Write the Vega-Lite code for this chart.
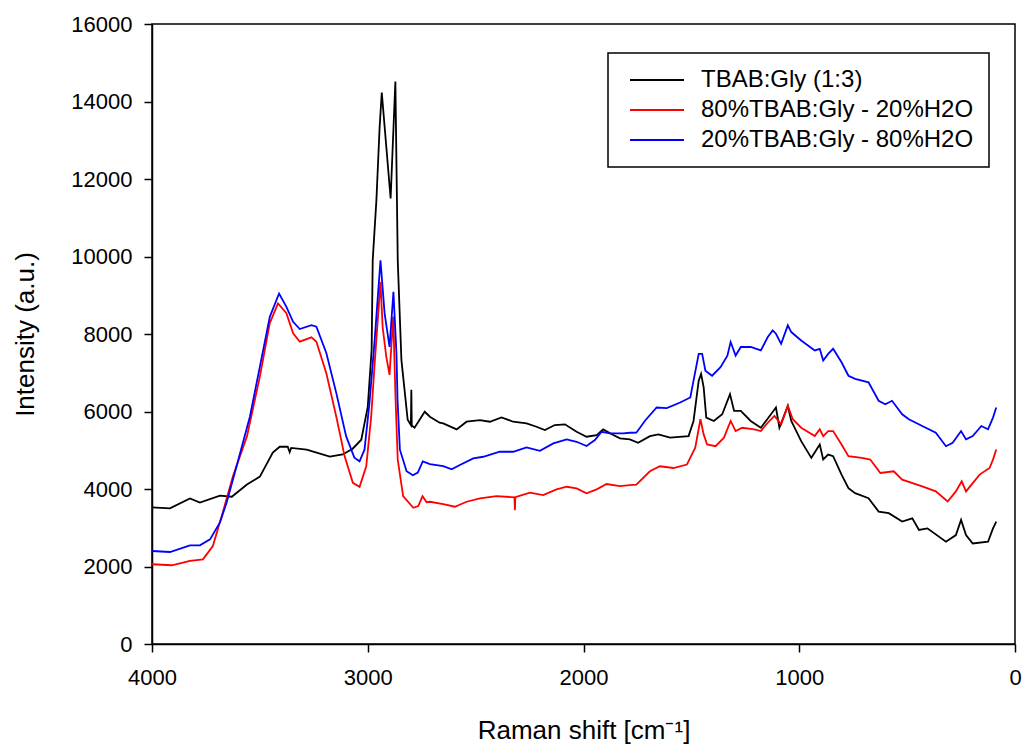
{
  "$schema": "https://vega.github.io/schema/vega-lite/v6.json",
  "autosize": {"type": "none"},
  "padding": {"left": 152, "top": 24, "right": 8, "bottom": 103},
  "width": 863,
  "height": 620,
  "background": "white",
  "config": {
    "view": {"stroke": "black", "strokeWidth": 1.5},
    "axis": {
      "domainColor": "black", "tickColor": "black", "labelColor": "black", "titleColor": "black",
      "labelFont": "Liberation Sans", "titleFont": "Liberation Sans",
      "labelFontSize": 22, "titleFontSize": 26, "titleFontWeight": "normal",
      "tickSize": 8, "grid": false, "domainWidth": 1.5, "tickWidth": 1.5
    },
    "legend": {
      "orient": "none", "legendX": 456, "legendY": 29,
      "strokeColor": "black", "strokeWidth": 1.5, "fillColor": "white",
      "padding": 15,
      "symbolType": "M-0.556,0H5.444", "symbolSize": 324, "symbolStrokeWidth": 1.8,
      "labelFont": "Liberation Sans", "labelFontSize": 24, "labelColor": "black",
      "labelOffset": 54, "rowPadding": 6, "labelLimit": 500
    }
  },
  "datasets": {
    "spectra": [
      {"shift": 4000, "intensity": 3524, "sample": "TBAB:Gly (1:3)"},
      {"shift": 3917, "intensity": 3500, "sample": "TBAB:Gly (1:3)"},
      {"shift": 3824, "intensity": 3755, "sample": "TBAB:Gly (1:3)"},
      {"shift": 3778, "intensity": 3650, "sample": "TBAB:Gly (1:3)"},
      {"shift": 3685, "intensity": 3830, "sample": "TBAB:Gly (1:3)"},
      {"shift": 3630, "intensity": 3800, "sample": "TBAB:Gly (1:3)"},
      {"shift": 3560, "intensity": 4115, "sample": "TBAB:Gly (1:3)"},
      {"shift": 3500, "intensity": 4320, "sample": "TBAB:Gly (1:3)"},
      {"shift": 3440, "intensity": 4940, "sample": "TBAB:Gly (1:3)"},
      {"shift": 3408, "intensity": 5090, "sample": "TBAB:Gly (1:3)"},
      {"shift": 3371, "intensity": 5090, "sample": "TBAB:Gly (1:3)"},
      {"shift": 3362, "intensity": 4950, "sample": "TBAB:Gly (1:3)"},
      {"shift": 3355, "intensity": 5060, "sample": "TBAB:Gly (1:3)"},
      {"shift": 3283, "intensity": 5015, "sample": "TBAB:Gly (1:3)"},
      {"shift": 3176, "intensity": 4835, "sample": "TBAB:Gly (1:3)"},
      {"shift": 3116, "intensity": 4890, "sample": "TBAB:Gly (1:3)"},
      {"shift": 3070, "intensity": 5040, "sample": "TBAB:Gly (1:3)"},
      {"shift": 3030, "intensity": 5272, "sample": "TBAB:Gly (1:3)"},
      {"shift": 3000, "intensity": 6120, "sample": "TBAB:Gly (1:3)"},
      {"shift": 2982, "intensity": 7590, "sample": "TBAB:Gly (1:3)"},
      {"shift": 2977, "intensity": 9902, "sample": "TBAB:Gly (1:3)"},
      {"shift": 2960, "intensity": 11446, "sample": "TBAB:Gly (1:3)"},
      {"shift": 2945, "intensity": 13330, "sample": "TBAB:Gly (1:3)"},
      {"shift": 2935, "intensity": 14231, "sample": "TBAB:Gly (1:3)"},
      {"shift": 2894, "intensity": 11497, "sample": "TBAB:Gly (1:3)"},
      {"shift": 2872, "intensity": 14514, "sample": "TBAB:Gly (1:3)"},
      {"shift": 2861, "intensity": 9902, "sample": "TBAB:Gly (1:3)"},
      {"shift": 2844, "intensity": 7330, "sample": "TBAB:Gly (1:3)"},
      {"shift": 2815, "intensity": 5787, "sample": "TBAB:Gly (1:3)"},
      {"shift": 2800, "intensity": 5650, "sample": "TBAB:Gly (1:3)"},
      {"shift": 2798, "intensity": 6560, "sample": "TBAB:Gly (1:3)"},
      {"shift": 2796, "intensity": 5640, "sample": "TBAB:Gly (1:3)"},
      {"shift": 2783, "intensity": 5581, "sample": "TBAB:Gly (1:3)"},
      {"shift": 2736, "intensity": 5993, "sample": "TBAB:Gly (1:3)"},
      {"shift": 2712, "intensity": 5864, "sample": "TBAB:Gly (1:3)"},
      {"shift": 2667, "intensity": 5710, "sample": "TBAB:Gly (1:3)"},
      {"shift": 2650, "intensity": 5694, "sample": "TBAB:Gly (1:3)"},
      {"shift": 2588, "intensity": 5539, "sample": "TBAB:Gly (1:3)"},
      {"shift": 2542, "intensity": 5736, "sample": "TBAB:Gly (1:3)"},
      {"shift": 2480, "intensity": 5779, "sample": "TBAB:Gly (1:3)"},
      {"shift": 2434, "intensity": 5736, "sample": "TBAB:Gly (1:3)"},
      {"shift": 2380, "intensity": 5849, "sample": "TBAB:Gly (1:3)"},
      {"shift": 2326, "intensity": 5736, "sample": "TBAB:Gly (1:3)"},
      {"shift": 2264, "intensity": 5694, "sample": "TBAB:Gly (1:3)"},
      {"shift": 2218, "intensity": 5606, "sample": "TBAB:Gly (1:3)"},
      {"shift": 2179, "intensity": 5521, "sample": "TBAB:Gly (1:3)"},
      {"shift": 2133, "intensity": 5650, "sample": "TBAB:Gly (1:3)"},
      {"shift": 2086, "intensity": 5668, "sample": "TBAB:Gly (1:3)"},
      {"shift": 2032, "intensity": 5477, "sample": "TBAB:Gly (1:3)"},
      {"shift": 1986, "intensity": 5349, "sample": "TBAB:Gly (1:3)"},
      {"shift": 1939, "intensity": 5392, "sample": "TBAB:Gly (1:3)"},
      {"shift": 1909, "intensity": 5539, "sample": "TBAB:Gly (1:3)"},
      {"shift": 1862, "intensity": 5392, "sample": "TBAB:Gly (1:3)"},
      {"shift": 1831, "intensity": 5307, "sample": "TBAB:Gly (1:3)"},
      {"shift": 1785, "intensity": 5281, "sample": "TBAB:Gly (1:3)"},
      {"shift": 1747, "intensity": 5193, "sample": "TBAB:Gly (1:3)"},
      {"shift": 1692, "intensity": 5365, "sample": "TBAB:Gly (1:3)"},
      {"shift": 1653, "intensity": 5408, "sample": "TBAB:Gly (1:3)"},
      {"shift": 1599, "intensity": 5324, "sample": "TBAB:Gly (1:3)"},
      {"shift": 1513, "intensity": 5365, "sample": "TBAB:Gly (1:3)"},
      {"shift": 1490, "intensity": 5756, "sample": "TBAB:Gly (1:3)"},
      {"shift": 1466, "intensity": 6795, "sample": "TBAB:Gly (1:3)"},
      {"shift": 1455, "intensity": 6970, "sample": "TBAB:Gly (1:3)"},
      {"shift": 1443, "intensity": 6623, "sample": "TBAB:Gly (1:3)"},
      {"shift": 1431, "intensity": 5843, "sample": "TBAB:Gly (1:3)"},
      {"shift": 1396, "intensity": 5756, "sample": "TBAB:Gly (1:3)"},
      {"shift": 1357, "intensity": 5929, "sample": "TBAB:Gly (1:3)"},
      {"shift": 1321, "intensity": 6448, "sample": "TBAB:Gly (1:3)"},
      {"shift": 1302, "intensity": 6016, "sample": "TBAB:Gly (1:3)"},
      {"shift": 1271, "intensity": 6016, "sample": "TBAB:Gly (1:3)"},
      {"shift": 1225, "intensity": 5756, "sample": "TBAB:Gly (1:3)"},
      {"shift": 1178, "intensity": 5581, "sample": "TBAB:Gly (1:3)"},
      {"shift": 1131, "intensity": 5929, "sample": "TBAB:Gly (1:3)"},
      {"shift": 1108, "intensity": 6103, "sample": "TBAB:Gly (1:3)"},
      {"shift": 1092, "intensity": 5581, "sample": "TBAB:Gly (1:3)"},
      {"shift": 1053, "intensity": 6145, "sample": "TBAB:Gly (1:3)"},
      {"shift": 1037, "intensity": 5756, "sample": "TBAB:Gly (1:3)"},
      {"shift": 991, "intensity": 5235, "sample": "TBAB:Gly (1:3)"},
      {"shift": 944, "intensity": 4804, "sample": "TBAB:Gly (1:3)"},
      {"shift": 905, "intensity": 5149, "sample": "TBAB:Gly (1:3)"},
      {"shift": 889, "intensity": 4761, "sample": "TBAB:Gly (1:3)"},
      {"shift": 866, "intensity": 4888, "sample": "TBAB:Gly (1:3)"},
      {"shift": 843, "intensity": 4846, "sample": "TBAB:Gly (1:3)"},
      {"shift": 804, "intensity": 4372, "sample": "TBAB:Gly (1:3)"},
      {"shift": 772, "intensity": 4023, "sample": "TBAB:Gly (1:3)"},
      {"shift": 741, "intensity": 3894, "sample": "TBAB:Gly (1:3)"},
      {"shift": 679, "intensity": 3763, "sample": "TBAB:Gly (1:3)"},
      {"shift": 632, "intensity": 3418, "sample": "TBAB:Gly (1:3)"},
      {"shift": 585, "intensity": 3375, "sample": "TBAB:Gly (1:3)"},
      {"shift": 523, "intensity": 3159, "sample": "TBAB:Gly (1:3)"},
      {"shift": 476, "intensity": 3244, "sample": "TBAB:Gly (1:3)"},
      {"shift": 445, "intensity": 2943, "sample": "TBAB:Gly (1:3)"},
      {"shift": 406, "intensity": 2984, "sample": "TBAB:Gly (1:3)"},
      {"shift": 320, "intensity": 2639, "sample": "TBAB:Gly (1:3)"},
      {"shift": 274, "intensity": 2811, "sample": "TBAB:Gly (1:3)"},
      {"shift": 250, "intensity": 3202, "sample": "TBAB:Gly (1:3)"},
      {"shift": 227, "intensity": 2811, "sample": "TBAB:Gly (1:3)"},
      {"shift": 196, "intensity": 2595, "sample": "TBAB:Gly (1:3)"},
      {"shift": 125, "intensity": 2639, "sample": "TBAB:Gly (1:3)"},
      {"shift": 102, "intensity": 2984, "sample": "TBAB:Gly (1:3)"},
      {"shift": 87, "intensity": 3159, "sample": "TBAB:Gly (1:3)"},

      {"shift": 4000, "intensity": 2058, "sample": "80%TBAB:Gly - 20%H2O"},
      {"shift": 3908, "intensity": 2032, "sample": "80%TBAB:Gly - 20%H2O"},
      {"shift": 3824, "intensity": 2143, "sample": "80%TBAB:Gly - 20%H2O"},
      {"shift": 3764, "intensity": 2186, "sample": "80%TBAB:Gly - 20%H2O"},
      {"shift": 3718, "intensity": 2528, "sample": "80%TBAB:Gly - 20%H2O"},
      {"shift": 3672, "intensity": 3395, "sample": "80%TBAB:Gly - 20%H2O"},
      {"shift": 3625, "intensity": 4329, "sample": "80%TBAB:Gly - 20%H2O"},
      {"shift": 3560, "intensity": 5357, "sample": "80%TBAB:Gly - 20%H2O"},
      {"shift": 3500, "intensity": 6901, "sample": "80%TBAB:Gly - 20%H2O"},
      {"shift": 3454, "intensity": 8282, "sample": "80%TBAB:Gly - 20%H2O"},
      {"shift": 3416, "intensity": 8788, "sample": "80%TBAB:Gly - 20%H2O"},
      {"shift": 3377, "intensity": 8539, "sample": "80%TBAB:Gly - 20%H2O"},
      {"shift": 3346, "intensity": 8016, "sample": "80%TBAB:Gly - 20%H2O"},
      {"shift": 3315, "intensity": 7801, "sample": "80%TBAB:Gly - 20%H2O"},
      {"shift": 3261, "intensity": 7913, "sample": "80%TBAB:Gly - 20%H2O"},
      {"shift": 3238, "intensity": 7801, "sample": "80%TBAB:Gly - 20%H2O"},
      {"shift": 3192, "intensity": 6987, "sample": "80%TBAB:Gly - 20%H2O"},
      {"shift": 3146, "intensity": 5872, "sample": "80%TBAB:Gly - 20%H2O"},
      {"shift": 3107, "intensity": 4843, "sample": "80%TBAB:Gly - 20%H2O"},
      {"shift": 3069, "intensity": 4159, "sample": "80%TBAB:Gly - 20%H2O"},
      {"shift": 3038, "intensity": 4056, "sample": "80%TBAB:Gly - 20%H2O"},
      {"shift": 3007, "intensity": 4586, "sample": "80%TBAB:Gly - 20%H2O"},
      {"shift": 2984, "intensity": 5872, "sample": "80%TBAB:Gly - 20%H2O"},
      {"shift": 2969, "intensity": 7158, "sample": "80%TBAB:Gly - 20%H2O"},
      {"shift": 2941, "intensity": 9344, "sample": "80%TBAB:Gly - 20%H2O"},
      {"shift": 2931, "intensity": 8179, "sample": "80%TBAB:Gly - 20%H2O"},
      {"shift": 2914, "intensity": 7407, "sample": "80%TBAB:Gly - 20%H2O"},
      {"shift": 2899, "intensity": 6944, "sample": "80%TBAB:Gly - 20%H2O"},
      {"shift": 2882, "intensity": 8450, "sample": "80%TBAB:Gly - 20%H2O"},
      {"shift": 2871, "intensity": 6301, "sample": "80%TBAB:Gly - 20%H2O"},
      {"shift": 2861, "intensity": 4758, "sample": "80%TBAB:Gly - 20%H2O"},
      {"shift": 2836, "intensity": 3814, "sample": "80%TBAB:Gly - 20%H2O"},
      {"shift": 2789, "intensity": 3516, "sample": "80%TBAB:Gly - 20%H2O"},
      {"shift": 2766, "intensity": 3558, "sample": "80%TBAB:Gly - 20%H2O"},
      {"shift": 2746, "intensity": 3814, "sample": "80%TBAB:Gly - 20%H2O"},
      {"shift": 2727, "intensity": 3660, "sample": "80%TBAB:Gly - 20%H2O"},
      {"shift": 2712, "intensity": 3671, "sample": "80%TBAB:Gly - 20%H2O"},
      {"shift": 2650, "intensity": 3612, "sample": "80%TBAB:Gly - 20%H2O"},
      {"shift": 2596, "intensity": 3542, "sample": "80%TBAB:Gly - 20%H2O"},
      {"shift": 2542, "intensity": 3671, "sample": "80%TBAB:Gly - 20%H2O"},
      {"shift": 2480, "intensity": 3759, "sample": "80%TBAB:Gly - 20%H2O"},
      {"shift": 2403, "intensity": 3818, "sample": "80%TBAB:Gly - 20%H2O"},
      {"shift": 2320, "intensity": 3785, "sample": "80%TBAB:Gly - 20%H2O"},
      {"shift": 2318, "intensity": 3450, "sample": "80%TBAB:Gly - 20%H2O"},
      {"shift": 2316, "intensity": 3790, "sample": "80%TBAB:Gly - 20%H2O"},
      {"shift": 2248, "intensity": 3904, "sample": "80%TBAB:Gly - 20%H2O"},
      {"shift": 2187, "intensity": 3844, "sample": "80%TBAB:Gly - 20%H2O"},
      {"shift": 2125, "intensity": 3991, "sample": "80%TBAB:Gly - 20%H2O"},
      {"shift": 2078, "intensity": 4058, "sample": "80%TBAB:Gly - 20%H2O"},
      {"shift": 2032, "intensity": 4017, "sample": "80%TBAB:Gly - 20%H2O"},
      {"shift": 1986, "intensity": 3888, "sample": "80%TBAB:Gly - 20%H2O"},
      {"shift": 1939, "intensity": 3991, "sample": "80%TBAB:Gly - 20%H2O"},
      {"shift": 1893, "intensity": 4128, "sample": "80%TBAB:Gly - 20%H2O"},
      {"shift": 1831, "intensity": 4076, "sample": "80%TBAB:Gly - 20%H2O"},
      {"shift": 1785, "intensity": 4102, "sample": "80%TBAB:Gly - 20%H2O"},
      {"shift": 1755, "intensity": 4110, "sample": "80%TBAB:Gly - 20%H2O"},
      {"shift": 1692, "intensity": 4457, "sample": "80%TBAB:Gly - 20%H2O"},
      {"shift": 1646, "intensity": 4586, "sample": "80%TBAB:Gly - 20%H2O"},
      {"shift": 1583, "intensity": 4542, "sample": "80%TBAB:Gly - 20%H2O"},
      {"shift": 1521, "intensity": 4630, "sample": "80%TBAB:Gly - 20%H2O"},
      {"shift": 1482, "intensity": 5064, "sample": "80%TBAB:Gly - 20%H2O"},
      {"shift": 1458, "intensity": 5800, "sample": "80%TBAB:Gly - 20%H2O"},
      {"shift": 1443, "intensity": 5409, "sample": "80%TBAB:Gly - 20%H2O"},
      {"shift": 1427, "intensity": 5149, "sample": "80%TBAB:Gly - 20%H2O"},
      {"shift": 1388, "intensity": 5105, "sample": "80%TBAB:Gly - 20%H2O"},
      {"shift": 1349, "intensity": 5324, "sample": "80%TBAB:Gly - 20%H2O"},
      {"shift": 1318, "intensity": 5756, "sample": "80%TBAB:Gly - 20%H2O"},
      {"shift": 1295, "intensity": 5496, "sample": "80%TBAB:Gly - 20%H2O"},
      {"shift": 1264, "intensity": 5581, "sample": "80%TBAB:Gly - 20%H2O"},
      {"shift": 1209, "intensity": 5540, "sample": "80%TBAB:Gly - 20%H2O"},
      {"shift": 1178, "intensity": 5496, "sample": "80%TBAB:Gly - 20%H2O"},
      {"shift": 1146, "intensity": 5710, "sample": "80%TBAB:Gly - 20%H2O"},
      {"shift": 1115, "intensity": 5885, "sample": "80%TBAB:Gly - 20%H2O"},
      {"shift": 1084, "intensity": 5669, "sample": "80%TBAB:Gly - 20%H2O"},
      {"shift": 1053, "intensity": 6145, "sample": "80%TBAB:Gly - 20%H2O"},
      {"shift": 1030, "intensity": 5800, "sample": "80%TBAB:Gly - 20%H2O"},
      {"shift": 991, "intensity": 5581, "sample": "80%TBAB:Gly - 20%H2O"},
      {"shift": 928, "intensity": 5365, "sample": "80%TBAB:Gly - 20%H2O"},
      {"shift": 905, "intensity": 5540, "sample": "80%TBAB:Gly - 20%H2O"},
      {"shift": 889, "intensity": 5365, "sample": "80%TBAB:Gly - 20%H2O"},
      {"shift": 866, "intensity": 5496, "sample": "80%TBAB:Gly - 20%H2O"},
      {"shift": 843, "intensity": 5496, "sample": "80%TBAB:Gly - 20%H2O"},
      {"shift": 804, "intensity": 5149, "sample": "80%TBAB:Gly - 20%H2O"},
      {"shift": 772, "intensity": 4846, "sample": "80%TBAB:Gly - 20%H2O"},
      {"shift": 710, "intensity": 4804, "sample": "80%TBAB:Gly - 20%H2O"},
      {"shift": 671, "intensity": 4761, "sample": "80%TBAB:Gly - 20%H2O"},
      {"shift": 624, "intensity": 4414, "sample": "80%TBAB:Gly - 20%H2O"},
      {"shift": 562, "intensity": 4457, "sample": "80%TBAB:Gly - 20%H2O"},
      {"shift": 523, "intensity": 4241, "sample": "80%TBAB:Gly - 20%H2O"},
      {"shift": 430, "intensity": 4066, "sample": "80%TBAB:Gly - 20%H2O"},
      {"shift": 367, "intensity": 3938, "sample": "80%TBAB:Gly - 20%H2O"},
      {"shift": 312, "intensity": 3678, "sample": "80%TBAB:Gly - 20%H2O"},
      {"shift": 274, "intensity": 3938, "sample": "80%TBAB:Gly - 20%H2O"},
      {"shift": 247, "intensity": 4197, "sample": "80%TBAB:Gly - 20%H2O"},
      {"shift": 227, "intensity": 3938, "sample": "80%TBAB:Gly - 20%H2O"},
      {"shift": 164, "intensity": 4372, "sample": "80%TBAB:Gly - 20%H2O"},
      {"shift": 118, "intensity": 4542, "sample": "80%TBAB:Gly - 20%H2O"},
      {"shift": 102, "intensity": 4758, "sample": "80%TBAB:Gly - 20%H2O"},
      {"shift": 87, "intensity": 5020, "sample": "80%TBAB:Gly - 20%H2O"},

      {"shift": 4000, "intensity": 2400, "sample": "20%TBAB:Gly - 80%H2O"},
      {"shift": 3917, "intensity": 2374, "sample": "20%TBAB:Gly - 80%H2O"},
      {"shift": 3824, "intensity": 2546, "sample": "20%TBAB:Gly - 80%H2O"},
      {"shift": 3778, "intensity": 2546, "sample": "20%TBAB:Gly - 80%H2O"},
      {"shift": 3731, "intensity": 2700, "sample": "20%TBAB:Gly - 80%H2O"},
      {"shift": 3685, "intensity": 3138, "sample": "20%TBAB:Gly - 80%H2O"},
      {"shift": 3654, "intensity": 3652, "sample": "20%TBAB:Gly - 80%H2O"},
      {"shift": 3608, "intensity": 4586, "sample": "20%TBAB:Gly - 80%H2O"},
      {"shift": 3546, "intensity": 5872, "sample": "20%TBAB:Gly - 80%H2O"},
      {"shift": 3500, "intensity": 7158, "sample": "20%TBAB:Gly - 80%H2O"},
      {"shift": 3454, "intensity": 8444, "sample": "20%TBAB:Gly - 80%H2O"},
      {"shift": 3411, "intensity": 9045, "sample": "20%TBAB:Gly - 80%H2O"},
      {"shift": 3377, "intensity": 8702, "sample": "20%TBAB:Gly - 80%H2O"},
      {"shift": 3346, "intensity": 8316, "sample": "20%TBAB:Gly - 80%H2O"},
      {"shift": 3315, "intensity": 8127, "sample": "20%TBAB:Gly - 80%H2O"},
      {"shift": 3261, "intensity": 8230, "sample": "20%TBAB:Gly - 80%H2O"},
      {"shift": 3238, "intensity": 8187, "sample": "20%TBAB:Gly - 80%H2O"},
      {"shift": 3192, "intensity": 7510, "sample": "20%TBAB:Gly - 80%H2O"},
      {"shift": 3146, "intensity": 6481, "sample": "20%TBAB:Gly - 80%H2O"},
      {"shift": 3100, "intensity": 5357, "sample": "20%TBAB:Gly - 80%H2O"},
      {"shift": 3062, "intensity": 4810, "sample": "20%TBAB:Gly - 80%H2O"},
      {"shift": 3038, "intensity": 4715, "sample": "20%TBAB:Gly - 80%H2O"},
      {"shift": 3015, "intensity": 5015, "sample": "20%TBAB:Gly - 80%H2O"},
      {"shift": 2992, "intensity": 6224, "sample": "20%TBAB:Gly - 80%H2O"},
      {"shift": 2968, "intensity": 7845, "sample": "20%TBAB:Gly - 80%H2O"},
      {"shift": 2941, "intensity": 9902, "sample": "20%TBAB:Gly - 80%H2O"},
      {"shift": 2922, "intensity": 8539, "sample": "20%TBAB:Gly - 80%H2O"},
      {"shift": 2899, "intensity": 7665, "sample": "20%TBAB:Gly - 80%H2O"},
      {"shift": 2881, "intensity": 9087, "sample": "20%TBAB:Gly - 80%H2O"},
      {"shift": 2867, "intensity": 7500, "sample": "20%TBAB:Gly - 80%H2O"},
      {"shift": 2862, "intensity": 6301, "sample": "20%TBAB:Gly - 80%H2O"},
      {"shift": 2851, "intensity": 5015, "sample": "20%TBAB:Gly - 80%H2O"},
      {"shift": 2820, "intensity": 4457, "sample": "20%TBAB:Gly - 80%H2O"},
      {"shift": 2791, "intensity": 4354, "sample": "20%TBAB:Gly - 80%H2O"},
      {"shift": 2768, "intensity": 4424, "sample": "20%TBAB:Gly - 80%H2O"},
      {"shift": 2745, "intensity": 4715, "sample": "20%TBAB:Gly - 80%H2O"},
      {"shift": 2712, "intensity": 4640, "sample": "20%TBAB:Gly - 80%H2O"},
      {"shift": 2650, "intensity": 4592, "sample": "20%TBAB:Gly - 80%H2O"},
      {"shift": 2611, "intensity": 4507, "sample": "20%TBAB:Gly - 80%H2O"},
      {"shift": 2573, "intensity": 4618, "sample": "20%TBAB:Gly - 80%H2O"},
      {"shift": 2511, "intensity": 4791, "sample": "20%TBAB:Gly - 80%H2O"},
      {"shift": 2465, "intensity": 4832, "sample": "20%TBAB:Gly - 80%H2O"},
      {"shift": 2388, "intensity": 4961, "sample": "20%TBAB:Gly - 80%H2O"},
      {"shift": 2326, "intensity": 4961, "sample": "20%TBAB:Gly - 80%H2O"},
      {"shift": 2264, "intensity": 5075, "sample": "20%TBAB:Gly - 80%H2O"},
      {"shift": 2202, "intensity": 4987, "sample": "20%TBAB:Gly - 80%H2O"},
      {"shift": 2140, "intensity": 5178, "sample": "20%TBAB:Gly - 80%H2O"},
      {"shift": 2078, "intensity": 5281, "sample": "20%TBAB:Gly - 80%H2O"},
      {"shift": 2032, "intensity": 5219, "sample": "20%TBAB:Gly - 80%H2O"},
      {"shift": 1986, "intensity": 5108, "sample": "20%TBAB:Gly - 80%H2O"},
      {"shift": 1947, "intensity": 5263, "sample": "20%TBAB:Gly - 80%H2O"},
      {"shift": 1916, "intensity": 5477, "sample": "20%TBAB:Gly - 80%H2O"},
      {"shift": 1878, "intensity": 5436, "sample": "20%TBAB:Gly - 80%H2O"},
      {"shift": 1816, "intensity": 5436, "sample": "20%TBAB:Gly - 80%H2O"},
      {"shift": 1785, "intensity": 5452, "sample": "20%TBAB:Gly - 80%H2O"},
      {"shift": 1755, "intensity": 5453, "sample": "20%TBAB:Gly - 80%H2O"},
      {"shift": 1715, "intensity": 5761, "sample": "20%TBAB:Gly - 80%H2O"},
      {"shift": 1661, "intensity": 6103, "sample": "20%TBAB:Gly - 80%H2O"},
      {"shift": 1614, "intensity": 6086, "sample": "20%TBAB:Gly - 80%H2O"},
      {"shift": 1552, "intensity": 6232, "sample": "20%TBAB:Gly - 80%H2O"},
      {"shift": 1505, "intensity": 6363, "sample": "20%TBAB:Gly - 80%H2O"},
      {"shift": 1466, "intensity": 7487, "sample": "20%TBAB:Gly - 80%H2O"},
      {"shift": 1450, "intensity": 7487, "sample": "20%TBAB:Gly - 80%H2O"},
      {"shift": 1435, "intensity": 7055, "sample": "20%TBAB:Gly - 80%H2O"},
      {"shift": 1404, "intensity": 6924, "sample": "20%TBAB:Gly - 80%H2O"},
      {"shift": 1365, "intensity": 7142, "sample": "20%TBAB:Gly - 80%H2O"},
      {"shift": 1333, "intensity": 7443, "sample": "20%TBAB:Gly - 80%H2O"},
      {"shift": 1318, "intensity": 7793, "sample": "20%TBAB:Gly - 80%H2O"},
      {"shift": 1295, "intensity": 7443, "sample": "20%TBAB:Gly - 80%H2O"},
      {"shift": 1271, "intensity": 7664, "sample": "20%TBAB:Gly - 80%H2O"},
      {"shift": 1225, "intensity": 7664, "sample": "20%TBAB:Gly - 80%H2O"},
      {"shift": 1178, "intensity": 7575, "sample": "20%TBAB:Gly - 80%H2O"},
      {"shift": 1146, "intensity": 7922, "sample": "20%TBAB:Gly - 80%H2O"},
      {"shift": 1123, "intensity": 8094, "sample": "20%TBAB:Gly - 80%H2O"},
      {"shift": 1108, "intensity": 8007, "sample": "20%TBAB:Gly - 80%H2O"},
      {"shift": 1084, "intensity": 7747, "sample": "20%TBAB:Gly - 80%H2O"},
      {"shift": 1053, "intensity": 8223, "sample": "20%TBAB:Gly - 80%H2O"},
      {"shift": 1037, "intensity": 8050, "sample": "20%TBAB:Gly - 80%H2O"},
      {"shift": 991, "intensity": 7834, "sample": "20%TBAB:Gly - 80%H2O"},
      {"shift": 928, "intensity": 7575, "sample": "20%TBAB:Gly - 80%H2O"},
      {"shift": 905, "intensity": 7618, "sample": "20%TBAB:Gly - 80%H2O"},
      {"shift": 889, "intensity": 7315, "sample": "20%TBAB:Gly - 80%H2O"},
      {"shift": 866, "intensity": 7487, "sample": "20%TBAB:Gly - 80%H2O"},
      {"shift": 843, "intensity": 7618, "sample": "20%TBAB:Gly - 80%H2O"},
      {"shift": 804, "intensity": 7271, "sample": "20%TBAB:Gly - 80%H2O"},
      {"shift": 772, "intensity": 6924, "sample": "20%TBAB:Gly - 80%H2O"},
      {"shift": 741, "intensity": 6841, "sample": "20%TBAB:Gly - 80%H2O"},
      {"shift": 679, "intensity": 6752, "sample": "20%TBAB:Gly - 80%H2O"},
      {"shift": 632, "intensity": 6276, "sample": "20%TBAB:Gly - 80%H2O"},
      {"shift": 601, "intensity": 6188, "sample": "20%TBAB:Gly - 80%H2O"},
      {"shift": 570, "intensity": 6276, "sample": "20%TBAB:Gly - 80%H2O"},
      {"shift": 523, "intensity": 5929, "sample": "20%TBAB:Gly - 80%H2O"},
      {"shift": 492, "intensity": 5800, "sample": "20%TBAB:Gly - 80%H2O"},
      {"shift": 430, "intensity": 5625, "sample": "20%TBAB:Gly - 80%H2O"},
      {"shift": 367, "intensity": 5453, "sample": "20%TBAB:Gly - 80%H2O"},
      {"shift": 320, "intensity": 5105, "sample": "20%TBAB:Gly - 80%H2O"},
      {"shift": 289, "intensity": 5195, "sample": "20%TBAB:Gly - 80%H2O"},
      {"shift": 250, "intensity": 5496, "sample": "20%TBAB:Gly - 80%H2O"},
      {"shift": 227, "intensity": 5280, "sample": "20%TBAB:Gly - 80%H2O"},
      {"shift": 196, "intensity": 5365, "sample": "20%TBAB:Gly - 80%H2O"},
      {"shift": 156, "intensity": 5625, "sample": "20%TBAB:Gly - 80%H2O"},
      {"shift": 125, "intensity": 5540, "sample": "20%TBAB:Gly - 80%H2O"},
      {"shift": 102, "intensity": 5843, "sample": "20%TBAB:Gly - 80%H2O"},
      {"shift": 87, "intensity": 6103, "sample": "20%TBAB:Gly - 80%H2O"}
    ]
  },
  "data": {"name": "spectra"},
  "mark": {"type": "line", "strokeWidth": 1.8, "clip": true},
  "encoding": {
    "x": {
      "field": "shift", "type": "quantitative",
      "scale": {"domain": [0, 4000], "reverse": true, "nice": false, "zero": false},
      "axis": {"title": "Raman shift [cm⁻¹]", "values": [0, 1000, 2000, 3000, 4000], "format": "d", "labelPadding": 15, "titlePadding": 29, "labelFlush": false}
    },
    "y": {
      "field": "intensity", "type": "quantitative",
      "scale": {"domain": [0, 16000], "nice": false},
      "axis": {"title": "Intensity (a.u.)", "values": [0, 2000, 4000, 6000, 8000, 10000, 12000, 14000, 16000], "format": "d", "labelPadding": 12, "titlePadding": 32}
    },
    "color": {
      "field": "sample", "type": "nominal",
      "scale": {"domain": ["TBAB:Gly (1:3)", "80%TBAB:Gly - 20%H2O", "20%TBAB:Gly - 80%H2O"], "range": ["#000000", "#ff0000", "#0000ff"]},
      "legend": {"title": null}
    }
  }
}
